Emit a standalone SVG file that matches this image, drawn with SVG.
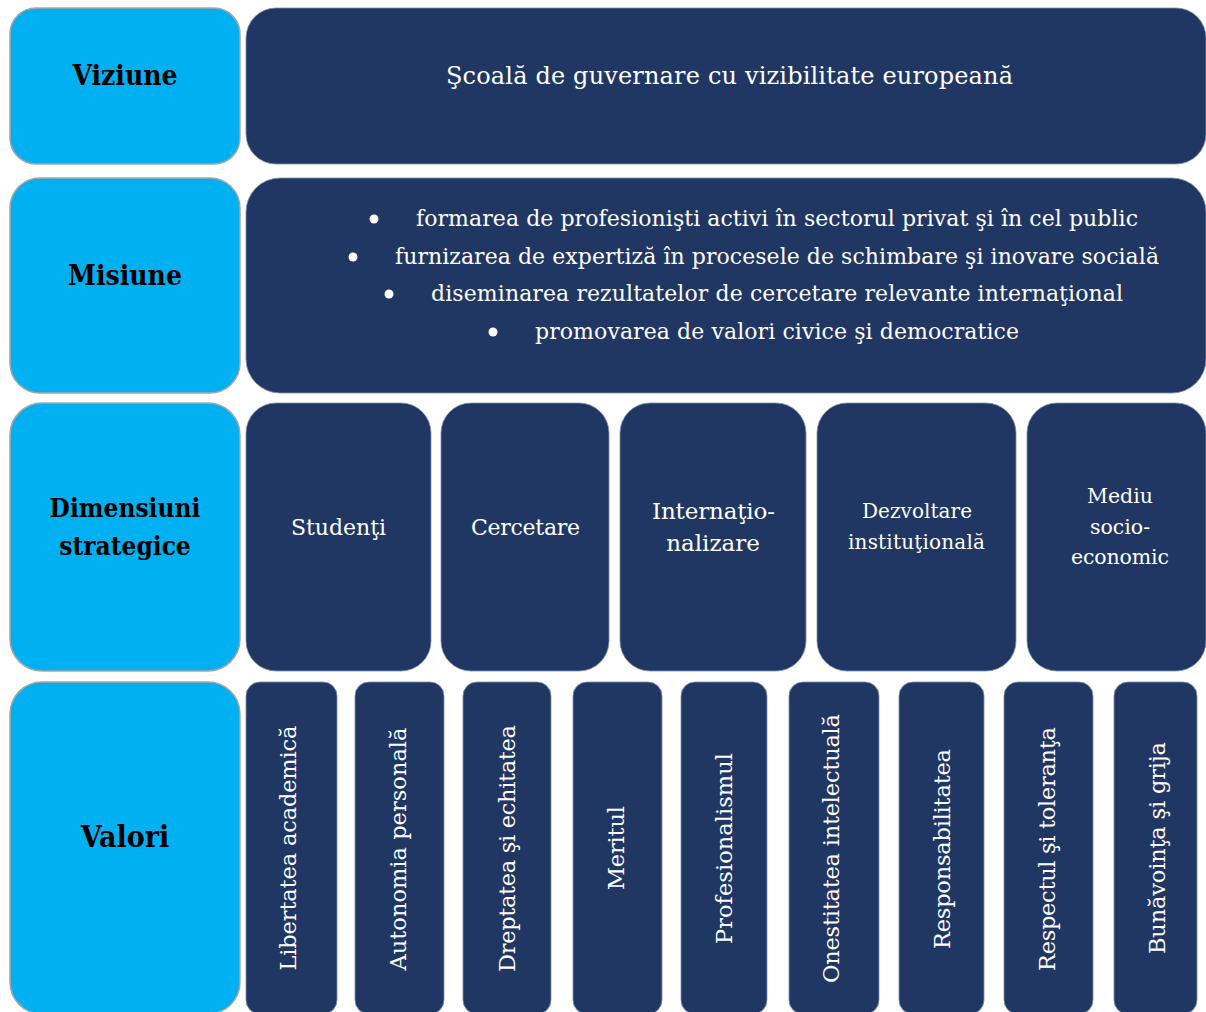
<svg xmlns="http://www.w3.org/2000/svg" width="1206" height="1012" viewBox="0 0 1206 1012">
<style>
.lb{fill:#00B0F0;stroke:#A6A6A6;stroke-width:1.5}
.db{fill:#213763;stroke:#7F8FAD;stroke-width:0.8}
.hd{font-family:"DejaVu Serif Condensed","Liberation Serif",serif;font-weight:bold;fill:#000;text-anchor:middle}
.tx{font-family:"DejaVu Serif","Liberation Serif",serif;fill:#fff;text-anchor:middle}
.ts{font-family:"DejaVu Serif","Liberation Serif",serif;fill:#fff;text-anchor:start;font-size:22px}
.vt{font-family:"DejaVu Serif","Liberation Serif",serif;fill:#fff;text-anchor:middle;font-size:22.5px}
.bu{fill:#fff}
</style>
<rect width="1206" height="1012" fill="#fff"/>
<g id="viziune-label"><rect class="lb" x="10" y="8" width="230" height="156" rx="26"/><text class="hd" x="125" y="85" font-size="28">Viziune</text></g>
<g id="viziune"><rect class="db" x="246" y="8" width="960" height="156" rx="30"/><text class="tx" x="729.5" y="84" font-size="24" textLength="567">Şcoală de guvernare cu vizibilitate europeană</text></g>
<g id="misiune-label"><rect class="lb" x="10" y="178" width="230" height="215" rx="30"/><text class="hd" x="125" y="285" font-size="28">Misiune</text></g>
<g id="misiune"><rect class="db" x="246" y="178" width="960" height="215" rx="34"/>
<circle class="bu" cx="374" cy="219" r="4.5"/><text class="ts" x="416" y="226" textLength="722">formarea de profesionişti activi în sectorul privat şi în cel public</text>
<circle class="bu" cx="353" cy="257" r="4.5"/><text class="ts" x="395" y="264" textLength="764">furnizarea de expertiză în procesele de schimbare şi inovare socială</text>
<circle class="bu" cx="389" cy="294" r="4.5"/><text class="ts" x="431" y="301" textLength="692">diseminarea rezultatelor de cercetare relevante internaţional</text>
<circle class="bu" cx="493" cy="332" r="4.5"/><text class="ts" x="535" y="339" textLength="484">promovarea de valori civice şi democratice</text>
</g>
<g id="dimensiuni-label"><rect class="lb" x="10" y="403" width="230" height="268" rx="32"/><text class="hd" font-size="26"><tspan x="125" y="517">Dimensiuni</tspan><tspan x="125" y="555">strategice</tspan></text></g>
<g id="studenti"><rect class="db" x="246" y="403" width="185" height="268" rx="30"/><text class="tx" x="338.5" y="535" font-size="22" textLength="95">Studenţi</text></g>
<g id="cercetare"><rect class="db" x="441" y="403" width="168" height="268" rx="30"/><text class="tx" x="525.5" y="535" font-size="22" textLength="109">Cercetare</text></g>
<g id="internationalizare"><rect class="db" x="620" y="403" width="186" height="268" rx="30"/><text class="tx" x="713.5" y="519" font-size="23" textLength="123">Internaţio-</text><text class="tx" x="713" y="551" font-size="23">nalizare</text></g>
<g id="dezvoltare"><rect class="db" x="817" y="403" width="199" height="268" rx="30"/><text class="tx" x="917" y="518" font-size="20" textLength="110">Dezvoltare</text><text class="tx" x="916.5" y="549" font-size="20" textLength="137">instituţională</text></g>
<g id="mediu"><rect class="db" x="1027" y="403" width="179" height="268" rx="30"/><text class="tx" x="1120" y="503" font-size="20.5">Mediu</text><text class="tx" x="1120" y="534" font-size="20.5">socio-</text><text class="tx" x="1120" y="564" font-size="20.5" textLength="98">economic</text></g>
<g id="valori-label"><rect class="lb" x="10" y="682" width="230" height="332" rx="32"/><text class="hd" x="125" y="847" font-size="30">Valori</text></g>
<g id="v1"><rect class="db" x="246" y="682" width="91" height="332" rx="14"/><text class="vt" transform="translate(296,848) rotate(-90)" textLength="245">Libertatea academică</text></g>
<g id="v2"><rect class="db" x="355" y="682" width="89" height="332" rx="14"/><text class="vt" transform="translate(406,849) rotate(-90)" textLength="243">Autonomia personală</text></g>
<g id="v3"><rect class="db" x="463" y="682" width="88" height="332" rx="14"/><text class="vt" transform="translate(515,848.5) rotate(-90)" textLength="247">Dreptatea şi echitatea</text></g>
<g id="v4"><rect class="db" x="573" y="682" width="89" height="332" rx="14"/><text class="vt" transform="translate(624,848) rotate(-90)" textLength="84">Meritul</text></g>
<g id="v5"><rect class="db" x="681" y="682" width="86" height="332" rx="14"/><text class="vt" transform="translate(732,848.5) rotate(-90)" textLength="191">Profesionalismul</text></g>
<g id="v6"><rect class="db" x="789" y="682" width="90" height="332" rx="14"/><text class="vt" transform="translate(839,848.5) rotate(-90)" textLength="269">Onestitatea intelectuală</text></g>
<g id="v7"><rect class="db" x="899" y="682" width="85" height="332" rx="14"/><text class="vt" transform="translate(950,849) rotate(-90)" textLength="200">Responsabilitatea</text></g>
<g id="v8"><rect class="db" x="1004" y="682" width="89" height="332" rx="14"/><text class="vt" transform="translate(1055,849) rotate(-90)" textLength="244">Respectul şi toleranţa</text></g>
<g id="v9"><rect class="db" x="1114" y="682" width="83" height="332" rx="14"/><text class="vt" transform="translate(1165,848) rotate(-90)" textLength="212">Bunăvoinţa şi grija</text></g>
<g id="connectors"></g>
</svg>
